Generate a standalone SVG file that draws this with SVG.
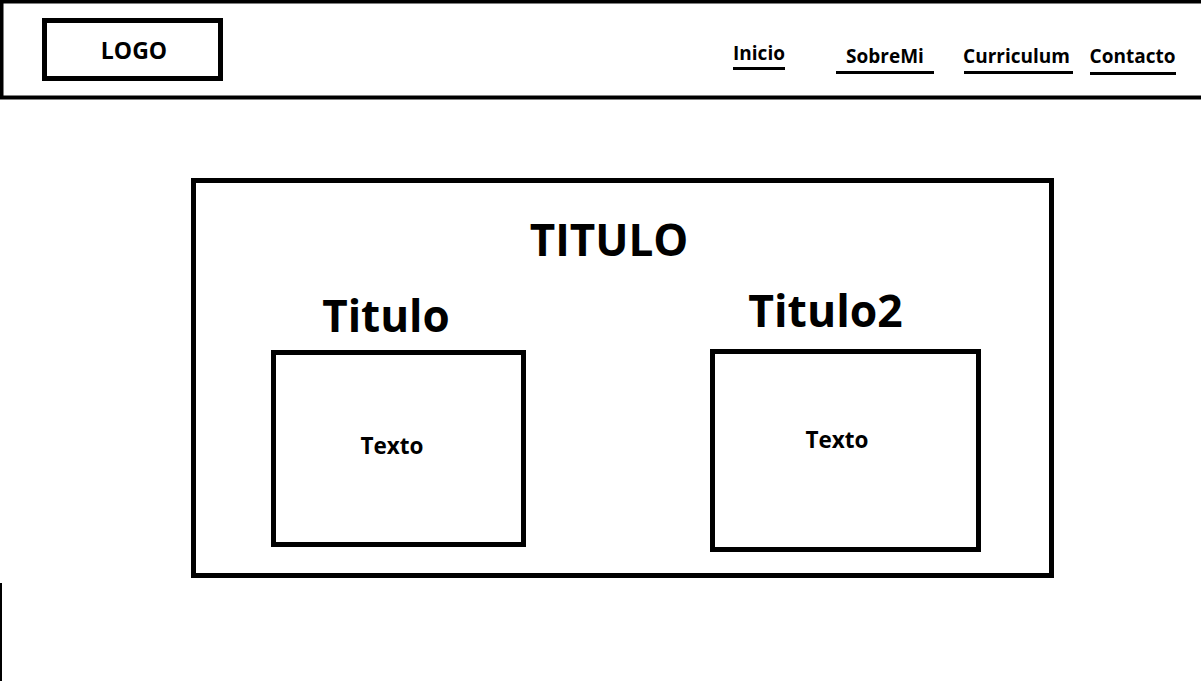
<svg xmlns="http://www.w3.org/2000/svg" width="1201" height="681" viewBox="0 0 1201 681">
  <style>
    .frame { fill: none; stroke: #000; stroke-width: 5; }
    .txt { font-family: "Open Sans", "Liberation Sans", sans-serif; font-weight: 700; fill: #000; }
    .ul { stroke: #000; stroke-width: 3; }
  </style>
  <rect width="1201" height="681" fill="#fff"/>

  <!-- header bar -->
  <g id="header">
    <rect x="1.5" y="1.5" width="1215" height="96" fill="none" stroke="#000" stroke-width="4"/>
  </g>
  <g id="logo">
    <rect class="frame" x="44.5" y="20.5" width="176" height="58"/>
    <text class="txt" x="134" y="59" font-size="23" text-anchor="middle">LOGO</text>
  </g>

  <!-- navigation links -->
  <g id="nav-inicio">
    <text class="txt" x="759" y="60" font-size="19" text-anchor="middle">Inicio</text>
    <line class="ul" x1="733" y1="68.5" x2="785" y2="68.5"/>
  </g>
  <g id="nav-sobremi">
    <text class="txt" x="885" y="63" font-size="19" text-anchor="middle">SobreMi</text>
    <line class="ul" x1="836" y1="72.5" x2="934" y2="72.5"/>
  </g>
  <g id="nav-curriculum">
    <text class="txt" x="1016.5" y="63" font-size="19" text-anchor="middle">Curriculum</text>
    <line class="ul" x1="964" y1="72.5" x2="1073" y2="72.5"/>
  </g>
  <g id="nav-contacto">
    <text class="txt" x="1132.5" y="63" font-size="19" text-anchor="middle">Contacto</text>
    <line class="ul" x1="1090" y1="73.5" x2="1176" y2="73.5"/>
  </g>

  <!-- main content panel -->
  <g id="main">
    <rect class="frame" x="193.5" y="180.5" width="858" height="395"/>
    <text class="txt" x="609" y="256" font-size="44" text-anchor="middle">TITULO</text>
  </g>
  <g id="section-1">
    <text class="txt" x="386" y="332" font-size="44" text-anchor="middle">Titulo</text>
    <rect class="frame" x="273.5" y="352.5" width="250" height="192"/>
    <text class="txt" x="392" y="454" font-size="22.5" text-anchor="middle">Texto</text>
  </g>
  <g id="section-2">
    <text class="txt" x="825.5" y="327" font-size="44.5" text-anchor="middle">Titulo2</text>
    <rect class="frame" x="712.5" y="351.5" width="266" height="198"/>
    <text class="txt" x="837" y="448" font-size="22.5" text-anchor="middle">Texto</text>
  </g>

  <!-- stray edge line -->
  <line x1="1" y1="583" x2="1" y2="681" stroke="#000" stroke-width="2"/>
</svg>
